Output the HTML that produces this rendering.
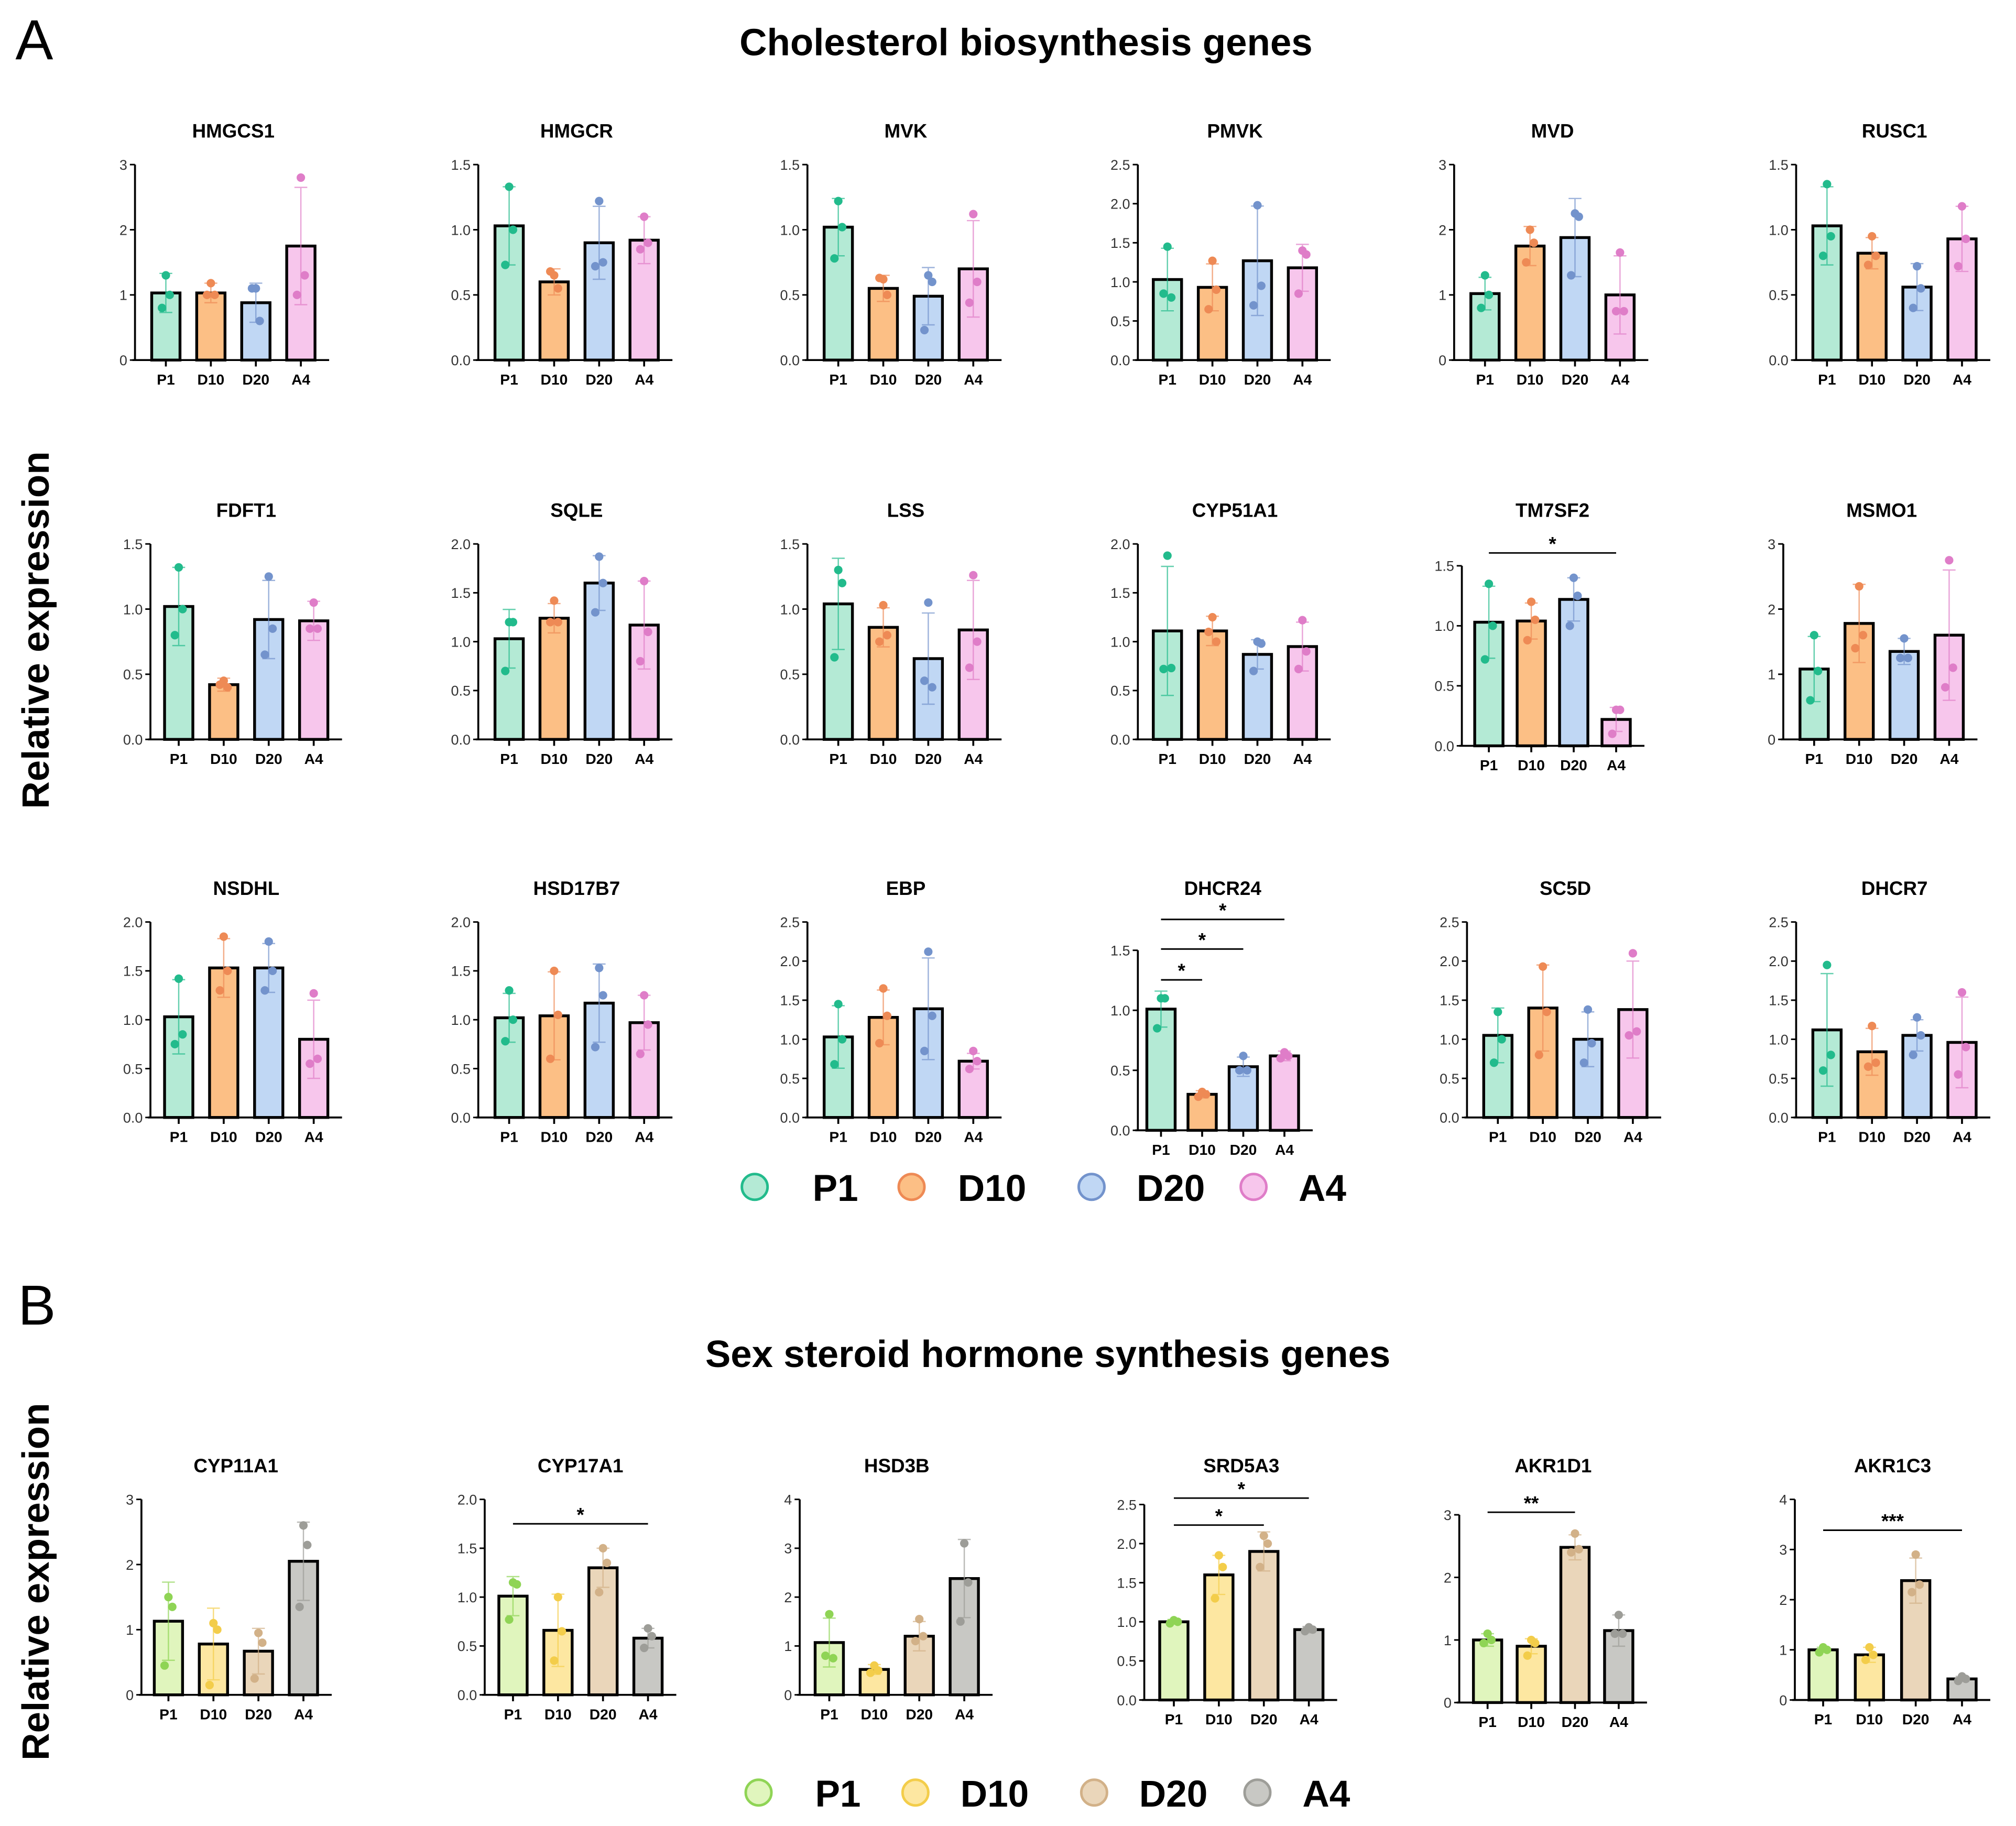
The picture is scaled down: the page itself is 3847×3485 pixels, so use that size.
<!DOCTYPE html>
<html><head><meta charset="utf-8"><style>
html,body{margin:0;padding:0;background:#fff;}
svg{display:block;font-family:"Liberation Sans",Arial,sans-serif;}
</style></head><body>
<svg id="fig" width="3847" height="3485" viewBox="0 0 1568 1420" preserveAspectRatio="none"></svg>
<script>
const groups = ["P1","D10","D20","A4"];
const panelNames = ["HMGCS1","HMGCR","MVK","PMVK","MVD","RUSC1","FDFT1","SQLE","LSS","CYP51A1","TM7SF2","MSMO1","NSDHL","HSD17B7","EBP","DHCR24","SC5D","DHCR7","CYP11A1","CYP17A1","HSD3B","SRD5A3","AKR1D1","AKR1C3"];
const yMaxes = [3,1.5,1.5,2.5,3,1.5, 1.5,2,1.5,2,1.5,3, 2,2,2.5,1.5,2.5,2.5, 3,2,4,2.5,3,4];
const tickSteps = [1,0.5,0.5,0.5,1,0.5, 0.5,0.5,0.5,0.5,0.5,1, 0.5,0.5,0.5,0.5,0.5,0.5, 1,0.5,1,0.5,1,1];
const means = [
[1.03,1.03,0.88,1.75],[1.03,0.6,0.9,0.92],[1.02,0.55,0.49,0.7],[1.03,0.93,1.27,1.18],[1.02,1.75,1.88,1.0],[1.03,0.82,0.56,0.93],
[1.02,0.42,0.92,0.91],[1.03,1.24,1.6,1.17],[1.04,0.86,0.62,0.84],[1.11,1.11,0.87,0.95],[1.03,1.04,1.22,0.22],[1.08,1.78,1.35,1.6],
[1.03,1.53,1.53,0.8],[1.02,1.04,1.17,0.97],[1.03,1.28,1.39,0.72],[1.01,0.3,0.53,0.62],[1.05,1.4,1.0,1.38],[1.12,0.84,1.05,0.96],
[1.13,0.78,0.67,2.05],[1.01,0.66,1.3,0.58],[1.07,0.52,1.2,2.38],[1.0,1.6,1.9,0.9],[1.0,0.9,2.48,1.15],[1.0,0.9,2.38,0.42]];
const sds = [
[0.3,0.15,0.3,0.9],[0.3,0.1,0.28,0.18],[0.22,0.1,0.22,0.37],[0.4,0.3,0.7,0.3],[0.25,0.3,0.6,0.6],[0.3,0.12,0.18,0.25],
[0.3,0.05,0.3,0.15],[0.3,0.15,0.28,0.45],[0.35,0.15,0.35,0.38],[0.66,0.15,0.15,0.25],[0.3,0.15,0.18,0.1],[0.5,0.6,0.2,1.0],
[0.38,0.3,0.25,0.4],[0.25,0.45,0.4,0.28],[0.4,0.35,0.65,0.1],[0.15,0.03,0.08,0.04],[0.35,0.55,0.35,0.62],[0.72,0.3,0.2,0.58],
[0.6,0.55,0.35,0.6],[0.2,0.37,0.2,0.1],[0.5,0.1,0.3,0.8],[0.03,0.25,0.25,0.04],[0.1,0.12,0.2,0.25],[0.05,0.15,0.45,0.05]];
const points = [
[[1.3,1.0,0.8],[1.18,1.0,1.0],[1.1,0.6,1.1],[2.8,1.3,1.0]],
[[1.33,1.0,0.73],[0.65,0.55,0.68],[1.22,0.75,0.72],[1.1,0.9,0.85]],
[[1.22,1.02,0.78],[0.62,0.5,0.63],[0.65,0.6,0.23],[1.12,0.6,0.44]],
[[1.45,0.8,0.85],[1.27,0.9,0.65],[1.98,0.95,0.7],[1.4,1.35,0.85]],
[[1.3,1.0,0.8],[2.0,1.8,1.5],[2.25,2.2,1.3],[1.65,0.75,0.75]],
[[1.35,0.95,0.8],[0.95,0.8,0.73],[0.72,0.55,0.4],[1.18,0.93,0.72]],
[[1.32,1.0,0.8],[0.45,0.4,0.42],[1.25,0.85,0.65],[1.05,0.85,0.85]],
[[1.2,1.2,0.7],[1.42,1.2,1.2],[1.87,1.6,1.3],[1.62,1.1,0.8]],
[[1.3,1.2,0.63],[1.03,0.8,0.75],[1.05,0.4,0.45],[1.26,0.75,0.55]],
[[1.88,0.73,0.72],[1.25,1.0,1.1],[1.0,0.98,0.7],[1.22,0.9,0.72]],
[[1.35,1.0,0.72],[1.2,1.05,0.88],[1.4,1.25,1.0],[0.3,0.3,0.1]],
[[1.6,1.05,0.6],[2.35,1.6,1.4],[1.55,1.25,1.25],[2.75,1.1,0.8]],
[[1.42,0.85,0.75],[1.85,1.5,1.3],[1.8,1.5,1.3],[1.27,0.6,0.55]],
[[1.3,1.0,0.78],[1.5,1.05,0.6],[1.53,1.25,0.72],[1.25,0.95,0.65]],
[[1.45,1.0,0.68],[1.65,1.3,0.95],[2.12,1.3,0.85],[0.85,0.72,0.62]],
[[1.1,1.1,0.85],[0.32,0.3,0.28],[0.62,0.5,0.5],[0.65,0.62,0.6]],
[[1.35,1.0,0.7],[1.93,1.35,0.8],[1.38,0.95,0.7],[2.1,1.1,1.05]],
[[1.95,0.8,0.6],[1.17,0.7,0.65],[1.28,1.05,0.8],[1.6,0.9,0.55]],
[[1.5,1.35,0.45],[1.1,1.0,0.15],[0.95,0.8,0.25],[2.6,2.3,1.35]],
[[1.15,1.13,0.77],[1.0,0.65,0.35],[1.5,1.35,1.05],[0.68,0.6,0.48]],
[[1.65,0.75,0.8],[0.6,0.5,0.45],[1.55,1.2,1.1],[3.1,2.3,1.5]],
[[1.02,1.0,0.98],[1.85,1.7,1.3],[2.1,2.0,1.7],[0.93,0.9,0.88]],
[[1.1,1.0,0.95],[1.0,0.95,0.75],[2.7,2.45,2.4],[1.4,1.1,1.1]],
[[1.05,1.0,0.95],[1.05,0.9,0.8],[2.9,2.3,2.15],[0.47,0.42,0.38]]];
const sigPanel = [10,15,15,15,19,21,21,22,23];
const sigFrom = [0,0,0,0,0,0,0,0,0];
const sigTo = [3,1,2,3,3,2,3,2,3];
const sigLabel = ["*","*","*","*","*","*","*","**","***"];
const sigY = [430,762,738,715,1185,1186,1165,1176,1190];

// layout (not data)
const layAxis = [105,372,628,885,1131,1397, 117,372,628,885,1137,1387, 117,372,628,885,1141,1397, 110,377,622,890,1135,1396];
const layFirst = [129,396,652,908,1155,1421, 139,396,652,908,1158,1411, 139,396,652,903,1165,1421, 131,399,645,913,1157,1418];
const laySpace = [35,35,35,35,35,35, 35,35,35,35,33,35, 35,35,35,32,35,35, 35,35,35,35,34,36];
const rowTop = [128,423,717,1166], rowBot = [280,575,869,1318], rowTitle=[102,397,691,1140];
const special = {10:[440,580],15:[739,879],21:[1170,1322],22:[1178,1324],23:[1166,1322]};
const fillA = ["#b4ead5","#fcbf85","#c0d7f4","#f7c6ec"], dotA = ["#22bb8c","#ee8a55","#7393cc","#df7dc8"];
const fillB = ["#e0f5bd","#fde7a1","#ead6ba","#c8c8c4"], dotB = ["#8fd455","#f3cd4a","#d2b188","#9d9d98"];
const jit = [0,3,-3];

const NS="http://www.w3.org/2000/svg", svg=document.getElementById('fig');
function mk(tag,attrs,parent){const e=document.createElementNS(NS,tag);for(const k in attrs)e.setAttribute(k,attrs[k]);(parent||svg).appendChild(e);return e;}
function txt(s,attrs,parent){const e=mk('text',attrs,parent);e.textContent=s;return e;}

let t;
t=txt("A",{x:12,y:46,"font-size":44});

t=txt("B",{x:14,y:1030,"font-size":44});

t=txt("Cholesterol biosynthesis genes",{x:798,y:43,"font-size":29.6,"font-weight":"bold","text-anchor":"middle"});

t=txt("Sex steroid hormone synthesis genes",{x:815,y:1063,"font-size":29.6,"font-weight":"bold","text-anchor":"middle"});

t=txt("Relative expression",{x:0,y:0,"font-size":29.6,"font-weight":"bold","text-anchor":"middle",transform:"translate(38,490) rotate(-90)"});

t=txt("Relative expression",{x:0,y:0,"font-size":29.6,"font-weight":"bold","text-anchor":"middle",transform:"translate(38,1230) rotate(-90)"});


const axes=[];
panelNames.forEach((name,i)=>{
  const isB=i>=18, r=isB?3:Math.floor(i/6);
  const ax=layAxis[i];
  let top=rowTop[r],bot=rowBot[r];
  if(special[i]){top=special[i][0];bot=special[i][1];}
  const ymax=yMaxes[i];
  const y=v=>bot-(v/ymax)*(bot-top);
  const x=g=>layFirst[i]+g*laySpace[i];
  axes[i]={x,y};
  const g=mk('g',{});
  
  
  t=txt(name,{x:(x(0)+x(3))/2,y:rowTitle[r]+5,"font-size":15,"font-weight":"bold","text-anchor":"middle"},g);
  
  const fills=isB?fillB:fillA, dots=isB?dotB:dotA;
  groups.forEach((gn,k)=>{
    const m=means[i][k], sd=sds[i][k];
    const b=mk('rect',{x:x(k)-11,y:y(m),width:22,height:bot-y(m),fill:fills[k],stroke:"#000","stroke-width":2.2},g);
    
    
    const lo=Math.max(0,m-sd);
    const e=mk('path',{d:`M${x(k)} ${y(m+sd)}V${y(lo)}M${x(k)-5} ${y(m+sd)}h10M${x(k)-5} ${y(lo)}h10`,stroke:dots[k],"stroke-width":1,fill:"none",opacity:0.7},g);
    
    
    points[i][k].forEach((v,j)=>{
      const p=mk('circle',{cx:x(k)+jit[j],cy:y(v),r:3.3,fill:dots[k]},g);
      
      
    });
    t=txt(gn,{x:x(k),y:bot+19,"font-size":11.5,"font-weight":"bold","text-anchor":"middle"},g);
    
    mk('line',{x1:x(k),x2:x(k),y1:bot,y2:bot+5,stroke:"#000","stroke-width":1.5},g);
  });
  mk('line',{x1:ax,x2:ax,y1:top,y2:bot,stroke:"#000","stroke-width":1.5},g);
  mk('line',{x1:ax-2,x2:x(3)+22,y1:bot,y2:bot,stroke:"#000","stroke-width":1.5},g);
  const step=tickSteps[i];
  for(let v=0;v<=ymax+1e-9;v+=step){
    mk('line',{x1:ax-4,x2:ax,y1:y(v),y2:y(v),stroke:"#000","stroke-width":1.2},g);
    t=txt(step<1?v.toFixed(1):String(Math.round(v)),{x:ax-6,y:y(v)+4,"font-size":11,"text-anchor":"end",fill:"#333"},g);
    
  }
});
sigPanel.forEach((p,s)=>{
  const a=axes[p];
  const l=mk('line',{x1:a.x(sigFrom[s]),x2:a.x(sigTo[s]),y1:sigY[s],y2:sigY[s],stroke:"#000","stroke-width":1.2});
  
  
  t=txt(sigLabel[s],{x:(a.x(sigFrom[s])+a.x(sigTo[s]))/2,y:sigY[s]-2,"font-size":15,"font-weight":"bold","text-anchor":"middle"});
  
});
function legend(cy,cxs,txs,fills,dots,nm){
  const g=mk('g',{});
  
  
  groups.forEach((gn,k)=>{
    mk('circle',{cx:cxs[k],cy:cy,r:10,fill:fills[k],stroke:dots[k],"stroke-width":2},g);
    t=txt(gn,{x:txs[k],y:cy+11,"font-size":29,"font-weight":"bold"},g);
    
  });
}
legend(923,[587,709,849,975],[632,745,884,1010],fillA,dotA,'legend-a');
legend(1394,[590,712,851,978],[634,747,886,1013],fillB,dotB,'legend-b');
</script>
</body></html>
